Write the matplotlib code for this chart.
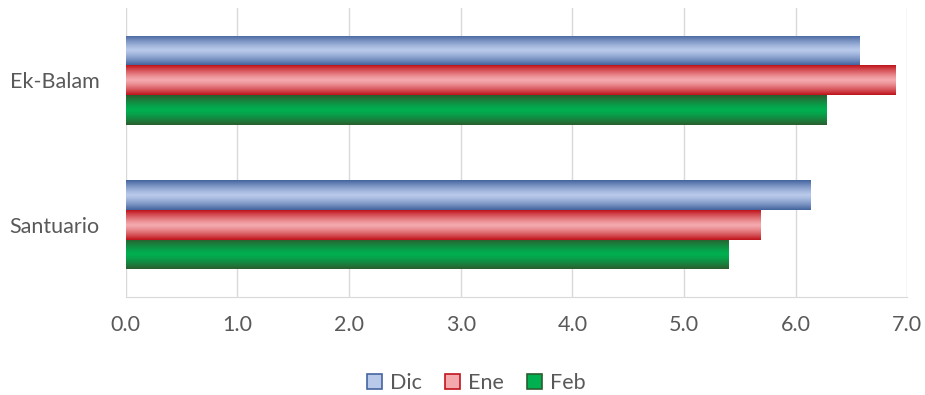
import matplotlib.pyplot as plt
import numpy as np
from matplotlib.colors import LinearSegmentedColormap
from matplotlib.patches import Patch

plt.rcParams['font.family'] = ['Lato', 'DejaVu Sans']

categories = ['Santuario', 'Ek-Balam']
series = ['Dic', 'Ene', 'Feb']
dic = [6.13, 6.57]
ene = [5.68, 6.89]
feb = [5.40, 6.27]
values = [dic, ene, feb]

# edge colour, centre colour for each series gradient
grads = [
    ('#44659f', '#b8c9ea'),
    ('#c0141c', '#f4a9ad'),
    ('#2b5e30', '#00b050'),
]

fig = plt.figure(figsize=(9.25, 3.95), dpi=100)
ax = fig.add_axes([0.136, 0.248, 0.845, 0.732])

h = 0.205
y = np.arange(len(categories))
offsets = [h, 0, -h]

# vertical gradient: dark - light - dark
t = np.linspace(0, 1, 64)
prof = 1 - np.abs(2 * t - 1) ** 1.3
grad_img = prof.reshape(-1, 1)

for vals, off, (c_edge, c_mid) in zip(values, offsets, grads):
    bars = ax.barh(y + off, vals, height=h, color=c_edge, edgecolor='none', zorder=2)
    cmap = LinearSegmentedColormap.from_list('g', [c_edge, c_mid])
    for b in bars:
        x0, y0 = b.get_x(), b.get_y()
        im = ax.imshow(grad_img, cmap=cmap, aspect='auto', vmin=0, vmax=1,
                       extent=(x0, x0 + b.get_width(), y0, y0 + b.get_height()),
                       zorder=3, interpolation='bilinear')
        im.set_clip_path(b)

ax.set_xlim(0, 7)
ax.set_ylim(-0.5, 1.5)
ax.set_xticks(np.arange(0, 7.01, 1.0))
ax.set_xticklabels([f'{v:.1f}' for v in np.arange(0, 7.01, 1.0)])
ax.set_yticks(y)
ax.set_yticklabels(categories)
ax.grid(axis='x', color='#d9d9d9', linewidth=1, zorder=0)
ax.set_axisbelow(True)
for s in ['top', 'right', 'left']:
    ax.spines[s].set_visible(False)
ax.spines['bottom'].set_color('#d9d9d9')
ax.tick_params(axis='both', length=0, labelsize=15.5, colors='#595959')
ax.tick_params(axis='y', pad=19)
ax.tick_params(axis='x', pad=13)

handles = [Patch(facecolor=g[1], edgecolor=g[0], linewidth=1.2) for g in grads]
fig.legend(handles, series, loc='center', bbox_to_anchor=(0.515, 0.03), ncol=3,
           frameon=False, fontsize=15.5, handlelength=0.7, handleheight=0.7,
           handletextpad=0.35, columnspacing=1.1, labelcolor='#595959')

fig.savefig('out.png', dpi=100)
